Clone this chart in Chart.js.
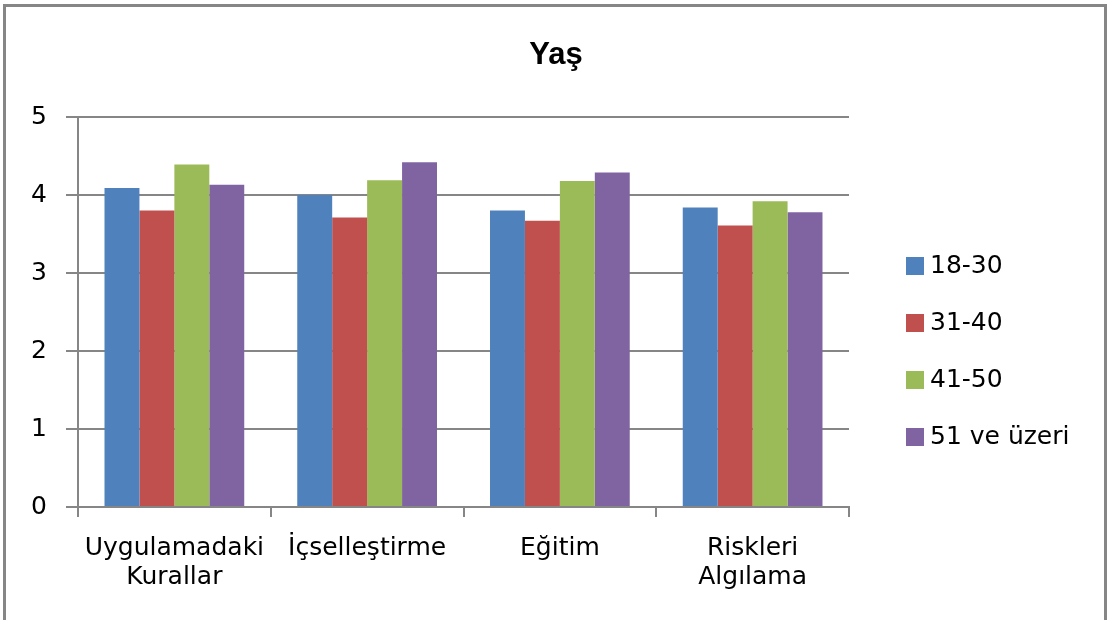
<!DOCTYPE html>
<html>
<head>
<meta charset="utf-8">
<script src="https://cdn.jsdelivr.net/npm/chart.js@4/dist/chart.umd.min.js"></script>
<style>
  html, body { margin: 0; padding: 0; background: #ffffff; }
  #wrap { position: relative; width: 1109px; height: 620px; }
</style>
</head>
<body>
<div id="wrap"><canvas id="c" width="1109" height="620"></canvas></div>
<script>
const chartTitle = 'Yaş';
const categories = [['Uygulamadaki', 'Kurallar'], 'İçselleştirme', 'Eğitim', ['Riskleri', 'Algılama']];
const seriesNames = ['18-30', '31-40', '41-50', '51 ve üzeri'];
const values1830 = [4.09, 4.00, 3.80, 3.84];
const values3140 = [3.80, 3.71, 3.67, 3.61];
const values4150 = [4.39, 4.19, 4.18, 3.92];
const values51 = [4.13, 4.42, 4.29, 3.78];
const yTicks = [0, 1, 2, 3, 4, 5];
const seriesColors = ['#4F81BD', '#C0504D', '#9BBB59', '#8064A2'];

const seriesValues = [values1830, values3140, values4150, values51];
const FONT = "'DejaVu Sans', sans-serif";
const GRID = '#868686';

const framePlugin = {
  id: 'frame',
  beforeDraw(chart) {
    const ctx = chart.ctx;
    ctx.save();
    ctx.fillStyle = '#ffffff';
    ctx.fillRect(0, 0, chart.width, chart.height);
    ctx.strokeStyle = GRID;
    ctx.lineWidth = 3;
    ctx.strokeRect(4.5, 5.5, 1101, 700);
    ctx.restore();
  }
};

const pageTitle = {
  id: 'pageTitle',
  afterDraw(chart, args, opts) {
    const ctx = chart.ctx;
    ctx.save();
    ctx.font = 'bold ' + opts.size + "px 'Liberation Sans', Arial, sans-serif";
    ctx.fillStyle = '#000000';
    ctx.textAlign = 'center';
    ctx.textBaseline = 'middle';
    ctx.fillText(opts.text, opts.x, opts.y);
    ctx.restore();
  }
};

const sideLegend = {
  id: 'sideLegend',
  afterDraw(chart, args, opts) {
    const ctx = chart.ctx;
    ctx.save();
    ctx.font = opts.fontSize + 'px ' + FONT;
    ctx.textBaseline = 'middle';
    ctx.textAlign = 'left';
    chart.data.datasets.forEach((ds, i) => {
      const cy = opts.startY + i * opts.step;
      ctx.fillStyle = ds.backgroundColor;
      ctx.fillRect(opts.boxX, cy - opts.box / 2, opts.box, opts.box);
      ctx.fillStyle = '#000000';
      ctx.fillText(ds.label, opts.textX, cy);
    });
    ctx.restore();
  }
};

new Chart(document.getElementById('c'), {
  type: 'bar',
  data: {
    labels: categories,
    datasets: seriesNames.map((name, i) => ({
      label: name,
      data: seriesValues[i],
      backgroundColor: seriesColors[i],
      borderWidth: 0,
      categoryPercentage: 0.725,
      barPercentage: 1.0
    }))
  },
  options: {
    responsive: false,
    animation: false,
    devicePixelRatio: 1,
    layout: { padding: { left: 0, right: 260, top: 117, bottom: 0 } },
    plugins: {
      legend: { display: false },
      tooltip: { enabled: false },
      title: { display: false },
      pageTitle: { text: chartTitle, x: 556, y: 55, size: 31 },
      sideLegend: { boxX: 906, textX: 930, box: 18, startY: 266, step: 57, fontSize: 25 }
    },
    scales: {
      x: {
        offset: true,
        grid: { display: true, drawOnChartArea: false, drawTicks: true, tickLength: 10, color: GRID, lineWidth: 2, offset: true },
        border: { display: true, color: GRID, width: 2 },
        ticks: { color: '#000000', font: { family: FONT, size: 25, lineHeight: 1.15 }, padding: 17, maxRotation: 0, autoSkip: false },
        afterFit: (s) => { s.height = 113; }
      },
      y: {
        min: 0,
        max: 5,
        afterBuildTicks: (s) => { s.ticks = yTicks.map(v => ({ value: v })); },
        grid: { color: GRID, lineWidth: 2, tickLength: 12, drawTicks: true },
        border: { display: true, color: GRID, width: 2 },
        ticks: { color: '#000000', font: { family: FONT, size: 25 }, padding: 19 },
        afterFit: (s) => { s.width = 78; }
      }
    }
  },
  plugins: [framePlugin, pageTitle, sideLegend]
});
</script>
</body>
</html>
